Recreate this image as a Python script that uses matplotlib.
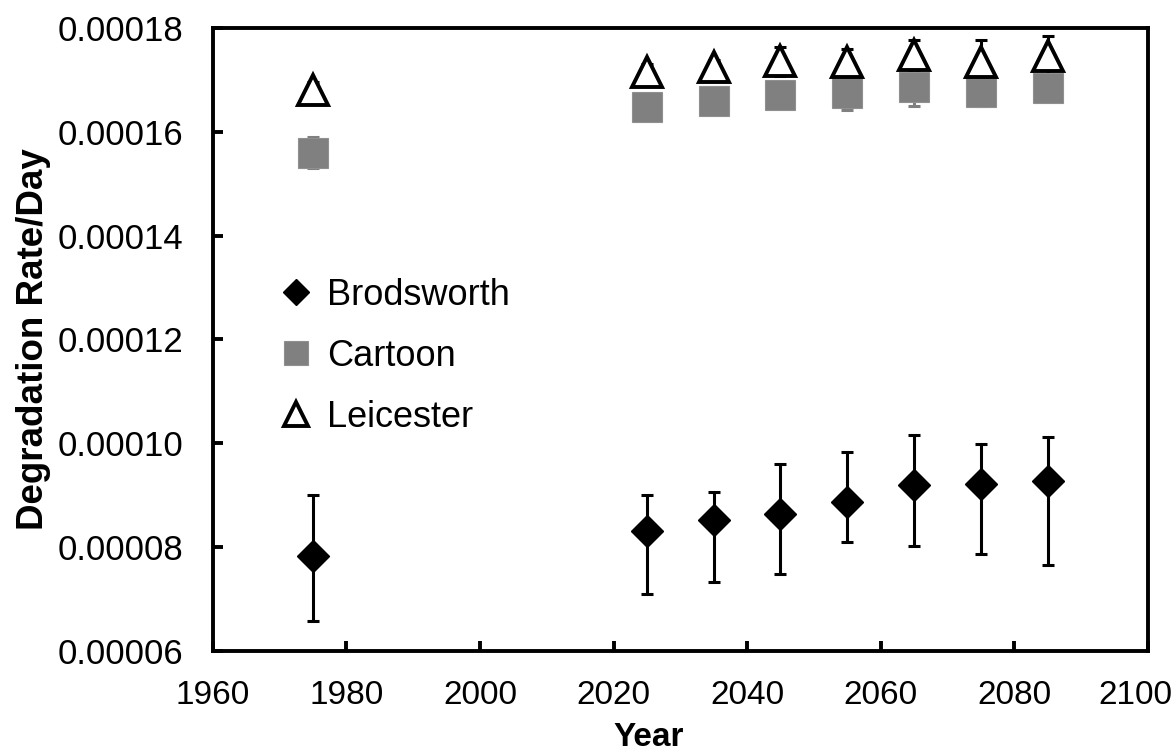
import matplotlib
matplotlib.use("Agg")
import matplotlib.pyplot as plt
from matplotlib.ticker import FormatStrFormatter, MultipleLocator
from matplotlib.transforms import ScaledTranslation

plt.rcParams['font.family'] = ['Liberation Sans', 'DejaVu Sans']

# Data
years = [1975, 2025, 2035, 2045, 2055, 2065, 2075, 2085]

brods = [7.83e-5, 8.31e-5, 8.52e-5, 8.63e-5, 8.87e-5, 9.19e-5, 9.21e-5, 9.28e-5]
brods_up = [9.00e-5, 9.00e-5, 9.06e-5, 9.60e-5, 9.84e-5, 1.016e-4, 9.98e-5, 1.013e-4]
brods_lo = [6.57e-5, 7.09e-5, 7.32e-5, 7.48e-5, 8.09e-5, 8.02e-5, 7.86e-5, 7.66e-5]

cartoon = [1.560e-4, 1.648e-4, 1.659e-4, 1.671e-4, 1.674e-4, 1.686e-4, 1.677e-4, 1.684e-4]
cartoon_err = [3.0e-6, 2.0e-6, 2.0e-6, 2.5e-6, 3.2e-6, 3.6e-6, 2.8e-6, 2.0e-6]

leic = [1.681e-4, 1.716e-4, 1.724e-4, 1.736e-4, 1.734e-4, 1.747e-4, 1.735e-4, 1.746e-4]
leic_err = [1.5e-6, 1.5e-6, 1.5e-6, 2.8e-6, 2.6e-6, 3.0e-6, 4.1e-6, 3.8e-6]

b_err = [[b - lo for b, lo in zip(brods, brods_lo)],
         [up - b for b, up in zip(brods, brods_up)]]

fig, ax = plt.subplots(figsize=(11.76, 7.56), dpi=100)
fig.subplots_adjust(left=0.181, right=0.976, top=0.963, bottom=0.139)

# Brodsworth
ax.errorbar(years, brods, yerr=b_err, fmt='none', ecolor='black',
            elinewidth=2.2, capsize=4.3, capthick=2.2, zorder=2)
ax.plot(years, brods, linestyle='none', marker='D', markersize=16.5,
        color='black', label='Brodsworth', zorder=3)

# Leicester error bars (behind squares)
ax.errorbar(years, leic, yerr=leic_err, fmt='none', ecolor='black',
            elinewidth=2.2, capsize=4.3, capthick=2.2, zorder=2)

# Cartoon
ax.errorbar(years, cartoon, yerr=cartoon_err, fmt='none', ecolor='#808080',
            elinewidth=2.2, capsize=4.3, capthick=2.2, zorder=3)
ax.plot(years, cartoon, linestyle='none', marker='s', markersize=22,
        color='#808080', markeredgecolor='#909090', markeredgewidth=0.8,
        label='Cartoon', zorder=4)

# Leicester
ax.plot(years, leic, linestyle='none', marker='^', markersize=21,
        markerfacecolor='white', markeredgecolor='black', markeredgewidth=2.8,
        label='Leicester', zorder=5)

ax.set_xlim(1960, 2100)
ax.set_ylim(0.00006, 0.00018)
ax.xaxis.set_major_locator(MultipleLocator(20))
ax.yaxis.set_major_locator(MultipleLocator(0.00002))
ax.yaxis.set_major_formatter(FormatStrFormatter('%.5f'))

for s in ax.spines.values():
    s.set_linewidth(2.8)
ax.tick_params(direction='in', length=7, width=2.8)
ax.tick_params(axis='x', labelsize=24, pad=21)
ax.tick_params(axis='y', labelsize=25, pad=21)

ax.set_xlabel('Year', fontsize=24, fontweight='bold')
ax.xaxis.set_label_coords(0.466, -0.114)
ax.set_ylabel('Degradation Rate/Day', fontsize=26.5, fontweight='bold', labelpad=5)

ax.legend(loc='upper left', bbox_to_anchor=(0.058, 0.628), frameon=False,
          fontsize=26, handlelength=0.6, handletextpad=0.55, labelspacing=0.72,
          borderpad=0, markerscale=0.8)

# nudge the last year label so it stays inside the figure
fig.canvas.draw()
for tick in ax.xaxis.get_major_ticks():
    if abs(tick.get_loc() - 2100) < 1:
        lab = tick.label1
        lab.set_transform(lab.get_transform() + ScaledTranslation(-9 / 72, 0, fig.dpi_scale_trans))

plt.savefig('out.png', dpi=100)
